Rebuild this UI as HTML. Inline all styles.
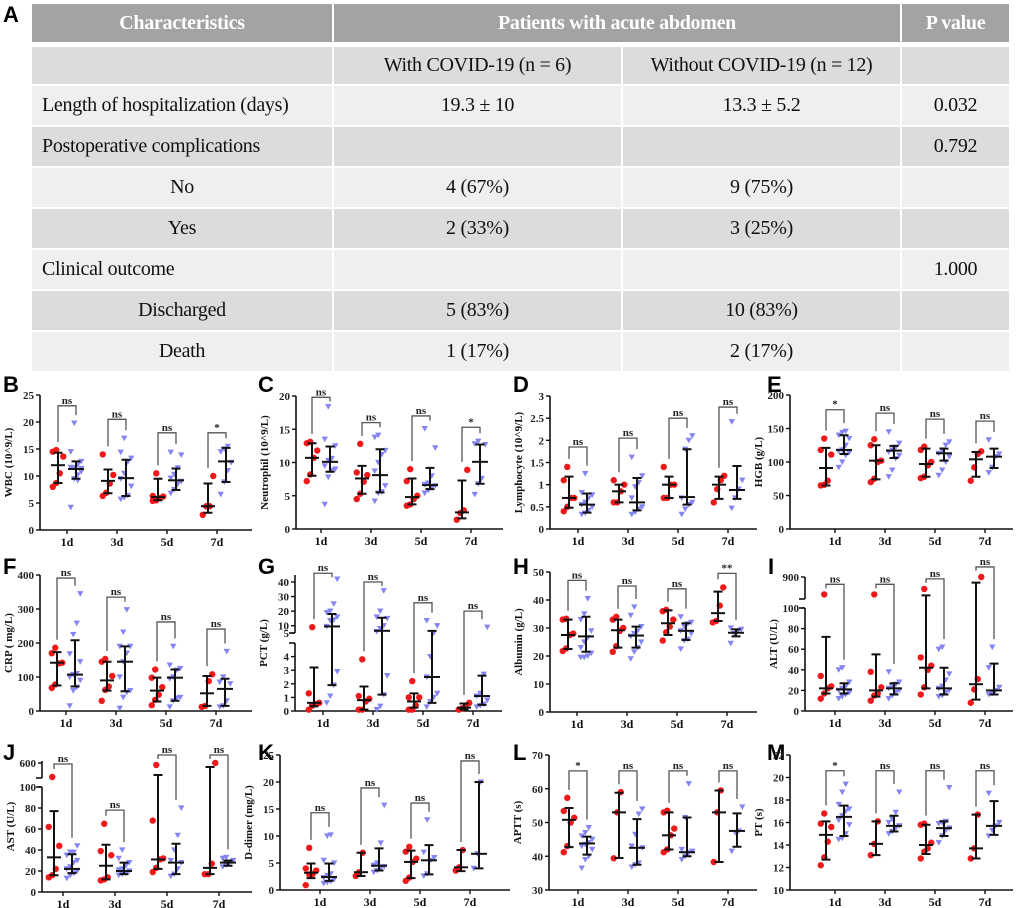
<!DOCTYPE html>
<html><head><meta charset="utf-8">
<style>
html,body{margin:0;padding:0;background:#fff;}
body{width:1020px;height:908px;position:relative;overflow:hidden;font-family:"Liberation Serif",serif;}
.c{position:absolute;box-sizing:border-box;display:flex;align-items:center;font-family:"Liberation Serif",serif;font-size:20px;color:#111;letter-spacing:-0.3px;}
.h{background:#a3a3a3;color:#fff;font-weight:bold;justify-content:center;}
.g{background:#dcdcdc;}
.w{background:#efefef;}
.ctr{justify-content:center;}
.lft{padding-left:10px;}
svg{position:absolute;left:0;top:0;}
</style></head>
<body>
<div style="position:absolute;left:3px;top:2px;font:bold 22px 'Liberation Sans',sans-serif;">A</div>
<div id="tbl"></div>
<svg id="charts" width="1020" height="908"></svg>
<script>
// ---------- table ----------
const colX=[31,333,622,901,1010];
const rowY=[[4,42],[47,84],[86,125],[127,166],[168,207],[209,248],[250,289],[291,330],[332,371]];
const rows=[
 ["","With COVID-19 (n = 6)","Without COVID-19 (n = 12)","",0],
 ["Length of hospitalization (days)","19.3 ± 10","13.3 ± 5.2","0.032",0],
 ["Postoperative complications","","","0.792",0],
 ["No","4 (67%)","9 (75%)","",1],
 ["Yes","2 (33%)","3 (25%)","",1],
 ["Clinical outcome","","","1.000",0],
 ["Discharged","5 (83%)","10 (83%)","",1],
 ["Death","1 (17%)","2 (17%)","",1]];
const tbl=document.getElementById('tbl');
function cell(x1,x2,y1,y2,cls,txt,name){
  const d=document.createElement('div');
  d.className='c '+cls;
  d.style.left=(x1+1)+'px';d.style.width=(x2-x1-2)+'px';d.style.top=y1+'px';d.style.height=(y2-y1)+'px';
  d.textContent=txt;
  
  
  tbl.appendChild(d);
}
cell(colX[0],colX[1],4,42,'h','Characteristics','header-characteristics');
cell(colX[1],colX[3],4,42,'h','Patients with acute abdomen','header-patients');
cell(colX[3],colX[4],4,42,'h','P value','header-p-value');
rows.forEach((r,i)=>{
  const [y1,y2]=rowY[i+1];
  const bg=(i%2===0)?'g':'w';
  cell(colX[0],colX[1],y1,y2,bg+(r[4]?' ctr':' lft'),r[0],'row-label');
  cell(colX[1],colX[2],y1,y2,bg+' ctr',r[1],'with-covid-value');
  cell(colX[2],colX[3],y1,y2,bg+' ctr',r[2],'without-covid-value');
  cell(colX[3],colX[4],y1,y2,bg+' ctr',r[3],'p-value');
});
</script>
<script>
// ---------- chart data ----------
const categories=["1d","3d","5d","7d"];
// B WBC
const B_rM=[12,9.1,6.1,4.4], B_rL=[8.7,6.8,5.5,3.2], B_rH=[14.3,11.2,9.5,8.6];
const B_rP=[[8,8.7,10.5,13.6,14.5,14.8],[6.3,6.9,8.6,10.2,14],[5.4,5.5,5.9,6.2,6.3,10.5],[2.8,4.4,4.4,10]];
const B_bM=[11.3,9.6,9.2,12.7], B_bL=[9.5,6.3,7.4,8.9], B_bH=[12.7,13,11.4,15.2];
const B_bP=[[4.2,9.5,10.2,11.4,11.6,11.5,12.1,12.7,14.5,19.8,9.2,10.8],[5.7,6,6.4,8.1,9.5,10.5,12.6,13.3,14.4,17],[6.8,7.5,8.5,9,9.6,10.3,11.5,13.9,14.4],[6.6,8.9,11,12.5,14.5,15,15.5]];
const B_brk=[23,20.5,18,18], B_sig=["ns","ns","ns","*"], B_ticks=[0,5,10,15,20,25];
// C Neutrophil
const C_rM=[10.7,7.6,4.8,2.5], C_rL=[8,5.3,3.7,1.6], C_rH=[12.9,9.5,7.6,7.3];
const C_rP=[[7.2,8.2,10.7,11.8,12.9,13.1],[4.5,5.3,7.1,8.1,8.5,12.8],[3.5,3.7,4.5,5,7.2,9],[1.4,2.4,2.8,8.9]];
const C_bM=[10.1,8.1,6.6,10.1], C_bL=[8.6,5.5,6,6.8], C_bH=[12.4,12,9.2,12.7];
const C_bP=[[3.7,7.8,8.8,9,9.5,10.3,10.6,12.5,13.5,18.4],[4.2,5.4,5.6,6.5,8.7,10,11.2,11.8,13.8,14.1],[5.4,5.8,6.2,6.5,6.7,6.9,8,12.2,15.1],[5.2,6.8,7.6,12.7,12.8,13.2]];
const C_brk=[19.8,16,17,15.3], C_sig=["ns","ns","ns","*"], C_ticks=[0,5,10,15,20];
// D Lymphocyte
const D_rM=[0.7,0.85,1,1], D_rL=[0.48,0.6,0.7,0.68], D_rH=[1.18,1,1.18,1.18];
const D_rP=[[0.4,0.5,0.7,0.7,1.1,1.4],[0.6,0.6,0.85,1,1.1],[0.7,0.7,1,1,1.4],[0.6,0.9,1.1,1.2]];
const D_bM=[0.55,0.6,0.72,0.88], D_bL=[0.37,0.42,0.55,0.68], D_bH=[0.8,1.15,1.8,1.42];
const D_bP=[[0.33,0.36,0.42,0.5,0.55,0.6,0.7,0.77,0.82,1.25],[0.33,0.38,0.45,0.5,0.7,0.95,1.05,1.2,1.62],[0.33,0.45,0.55,0.6,0.7,1.8,2,2.1],[0.47,0.7,0.9,1.1,2.42]];
const D_brk=[1.85,2.05,2.5,2.75], D_sig=["ns","ns","ns","ns"], D_ticks=[0,0.5,1,1.5,2,2.5,3];
// E HGB
const E_rM=[91,102,97,104], E_rL=[65,74,78,78], E_rH=[121,125,120,115];
const E_rP=[[65,66,72,111,118,135],[70,75,100,102,125,134],[76,78,95,100,118,123],[72,92,112,116]];
const E_bM=[118,117,113,108], E_bL=[112,106,102,91], E_bH=[140,124,120,120];
const E_bP=[[92,100,110,114,116,118,125,135,140,144,146],[78,88,105,110,115,118,122,128,145],[80,88,100,108,113,118,125,130],[84,92,108,112,133]];
const E_brk=[178,173,164,161], E_sig=["*","ns","ns","ns"], E_ticks=[0,50,100,150,200];
// F CRP
const F_rM=[142,90,60,52], F_rL=[75,60,28,15], F_rH=[173,145,98,103];
const F_rP=[[68,78,140,142,170,186],[30,62,72,103,145,153],[17,33,48,70,98,122],[12,15,88,108]];
const F_bM=[107,145,98,65], F_bL=[72,58,30,15], F_bH=[208,190,122,95];
const F_bP=[[15,60,70,90,100,107,110,145,168,225,258,345],[8,40,55,60,100,145,170,190,190,232,298],[12,30,38,40,95,100,120,125,135,190],[12,15,30,80,85,100,175]];
const F_brk=[391,335,262,241], F_sig=["ns","ns","ns","ns"], F_ticks=[0,100,200,300,400];
// G PCT
const G_rM=[0.6,0.8,0.7,0.25], G_rL=[0.35,0.1,0.25,0.1], G_rH=[3.2,1.8,1.3,0.55];
const G_rP=[[0.1,0.4,0.5,0.6,1.3,9],[0.1,0.1,0.7,0.9,1.1,3.8],[0.1,0.1,0.4,1,1,2.2],[0.1,0.2,0.3,0.6]];
const G_bM=[9.5,6.5,2.5,1.1], G_bL=[1.9,1.2,0.6,0.45], G_bH=[18,15.5,6.5,2.6];
const G_bP=[[0.6,1.1,1.9,2.9,9.5,13.5,14,16,19,20,25,42],[0.1,0.35,1.2,2.6,6,8,10,15,16,20,34],[0.3,0.7,1,1.3,2.5,4,5,10,13.5],[0.3,0.4,0.5,0.8,1.1,1.3,2.7,9]];
const G_brk=[46,40,25.7,20], G_sig=["ns","ns","ns","ns"], G_ticks=[0,1,2,3,4,5,10,20,30,40];
// H Albumin
const H_rM=[27.5,29.2,31.7,35.3], H_rL=[22.5,23,27.5,32.5], H_rH=[33,33,36.3,43];
const H_rP=[[21.8,22.7,27.5,28,33,33.3],[21.5,23.5,29,30,33,34],[25.5,28.5,30.5,33,36,36.5],[32,32.5,38,44.5]];
const H_bM=[27,27.3,29,28.3], H_bL=[21.5,23,25.7,27], H_bH=[34,30.5,31.7,29.5];
const H_bP=[[19.5,19.5,20,21,23,25,26.5,29,33,35,40.5],[19,21.5,23,25,27,28,29,30.5,34.5,37.5],[22.5,25.5,26,28,29,30.5,31.5,32,34],[24.5,28,29,29.5,30]];
const H_brk=[47,45,44,49.5], H_sig=["ns","ns","ns","**"], H_ticks=[0,10,20,30,40,50];
// I ALT
const I_rM=[22,20,42,26], I_rL=[17,14,22,11], I_rH=[72,55,240,700];
const I_rP=[[12,17,22,24,34,275],[10,15,17,23,38,275],[16,23,40,44,52,470],[8,21,31,900]];
const I_bM=[21,22,22,20], I_bL=[17,16,16,16], I_bH=[27,27,42,46];
const I_bP=[[12,14,16,18,20,22,24,28,40,42],[12,15,18,20,22,24,26,28,38],[14,15,18,20,22,24,30,36,60,62],[16,17,20,23,42,62]];
const I_brk=[637,637,834,1262], I_sig=["ns","ns","ns","ns"], I_ticks=[0,20,40,60,80,100,900];
// J AST
const J_rM=[33,25,31,23], J_rL=[16,12,22,17], J_rH=[77,45,208,469];
const J_rP=[[14,16,22,44,62,143],[11,12,14,35,39,65],[19,23,31,32,68,535],[17,17,27,600]];
const J_bM=[22,20,28,28], J_bL=[18,17,17,25], J_bH=[36,28,46,30];
const J_bP=[[13,16,18,20,22,24,28,30,35,38,38,44],[16,17,18,20,21,22,25,28,32,40],[15,17,22,28,30,40,54,80],[24,26,28,30,32,33]];
const J_brk=[567,78,861,861], J_sig=["ns","ns","ns","ns"], J_ticks=[0,20,40,60,80,100,600];
// K D-dimer
const K_rM=[3.2,3.3,5.2,4.2], K_rL=[2.2,2.6,2.2,3.5], K_rH=[4.9,6.9,7.3,7.4];
const K_rP=[[0.9,2.9,3,3.6,4,7.8],[2.6,3.3,6.9],[1.7,2.3,5.2,5.8,7.1,8],[3.6,4.2,7.4]];
const K_bM=[2.4,4.5,5.5,6.7], K_bL=[1.7,3.6,2.9,4], K_bH=[4.9,7.7,8.3,20];
const K_bP=[[1.2,1.4,1.6,2,2.3,2.7,3,5,5.5,10,10.2],[3.3,3.6,4,4.3,4.6,5,8.7,15.7],[2.6,3,5.5,6,7,13],[4,6.7,20]];
const K_brk=[14.3,18.9,16.1,23.9], K_sig=["ns","ns","ns","ns"], K_ticks=[0,5,10,15,20,25];
// L APTT
const L_rM=[50.8,53,46.2,53], L_rL=[42.7,39.5,42,38.3], L_rH=[54.3,58.8,53,59.5];
const L_rP=[[41.2,43,50,51.4,53.4,57.3],[39.4,53,59],[41.2,42,46.2,48.2,53,53.5],[38.3,53,59.5]];
const L_bM=[43.8,42.5,41.2,47.5], L_bL=[40.5,37.5,40,42.8], L_bH=[45.8,51,51.5,52.7];
const L_bP=[[36.5,39,40,42,43,43.5,44,45,46,47,48.5],[36.8,37.5,38,42.5,43,46.5,52.5,54],[39,40,41,41.5,42,51.5,61.5],[41.5,47,47.5,54.6]];
const L_brk=[65.3,65.3,65.3,65.3], L_sig=["*","ns","ns","ns"], L_ticks=[30,40,50,60,70];
// M PT
const M_rM=[14.9,14.1,14,13.7], M_rL=[12.7,13.1,13.2,12.8], M_rH=[16.1,16.1,15.8,16.7];
const M_rP=[[12.2,12.9,14.3,15.6,15.9,16.8],[13.1,14.1,16.1],[12.8,13.4,13.7,14.2,15.8,15.9],[12.8,13.7,16.7]];
const M_bM=[16.5,15.7,15.5,15.7], M_bL=[14.8,15.2,14.8,14.9], M_bH=[17.5,16.6,16.1,17.9];
const M_bP=[[14.5,14.6,15,15.8,16.2,16.6,17,17.2,17.6,18.7,19.4],[15,15.2,15.5,15.7,16,16.3,16.9,18.7],[14.2,14.8,15.3,15.5,15.9,16,16.1,19.1],[14.8,15.3,15.7,16,18.6]];
const M_brk=[20.6,20.6,20.6,20.6], M_sig=["*","ns","ns","ns"], M_ticks=[10,12,14,16,18,20,22];

// ---------- layout ----------
const S=document.getElementById('charts');
const NS='http://www.w3.org/2000/svg';
function mk(tag,attrs,parent){const e=document.createElementNS(NS,tag);for(const k in attrs)e.setAttribute(k,attrs[k]);(parent||S).appendChild(e);return e;}
const panels=[
 {id:'B',t:'WBC (10^9/L)',ax:40,c0:67,st:50,xe:252,lx:3,ly:392,segs:[[0,25,530,395]],rM:B_rM,rL:B_rL,rH:B_rH,rP:B_rP,bM:B_bM,bL:B_bL,bH:B_bH,bP:B_bP,brk:B_brk,sig:B_sig,ticks:B_ticks},
 {id:'C',t:'Neutrophil (10^9/L)',ax:296,c0:321,st:50,xe:503,lx:258,ly:392,segs:[[0,20,529,396]],rM:C_rM,rL:C_rL,rH:C_rH,rP:C_rP,bM:C_bM,bL:C_bL,bH:C_bH,bP:C_bP,brk:C_brk,sig:C_sig,ticks:C_ticks},
 {id:'D',t:'Lymphocyte (10^9/L)',ax:550,c0:578,st:50,xe:757,lx:513,ly:392,segs:[[0,3,529,396]],rM:D_rM,rL:D_rL,rH:D_rH,rP:D_rP,bM:D_bM,bL:D_bL,bH:D_bH,bP:D_bP,brk:D_brk,sig:D_sig,ticks:D_ticks},
 {id:'E',t:'HGB (g/L)',ax:790,c0:835,st:50,xe:1013,lx:767,ly:392,segs:[[0,200,529,395]],rM:E_rM,rL:E_rL,rH:E_rH,rP:E_rP,bM:E_bM,bL:E_bL,bH:E_bH,bP:E_bP,brk:E_brk,sig:E_sig,ticks:E_ticks},
 {id:'F',t:'CRP ( mg/L)',ax:40,c0:66,st:50,xe:252,lx:3,ly:574,segs:[[0,400,711,575]],rM:F_rM,rL:F_rL,rH:F_rH,rP:F_rP,bM:F_bM,bL:F_bL,bH:F_bH,bP:F_bP,brk:F_brk,sig:F_sig,ticks:F_ticks},
 {id:'G',t:'PCT (g/L)',ax:295,c0:323,st:50,xe:502,lx:258,ly:574,segs:[[0,5,711,643],[5,45,633,574.7]],rM:G_rM,rL:G_rL,rH:G_rH,rP:G_rP,bM:G_bM,bL:G_bL,bH:G_bH,bP:G_bP,brk:G_brk,sig:G_sig,ticks:G_ticks,axTop:575},
 {id:'H',t:'Albumin (g/L)',ax:550,c0:577,st:50,xe:757,lx:513,ly:574,segs:[[0,50,712,572]],rM:H_rM,rL:H_rL,rH:H_rH,rP:H_rP,bM:H_bM,bL:H_bL,bH:H_bH,bP:H_bP,brk:H_brk,sig:H_sig,ticks:H_ticks},
 {id:'I',t:'ALT (U/L)',ax:805,c0:835,st:50,xe:1013,lx:768,ly:574,segs:[[0,100,711,608],[110,900,599,577]],rM:I_rM,rL:I_rL,rH:I_rH,rP:I_rP,bM:I_bM,bL:I_bL,bH:I_bH,bP:I_bP,brk:I_brk,sig:I_sig,ticks:I_ticks,axTop:577},
 {id:'J',t:'AST (U/L)',ax:42,c0:63,st:52,xe:252,lx:3,ly:760,segs:[[0,100,892,787],[110,600,778,763]],rM:J_rM,rL:J_rL,rH:J_rH,rP:J_rP,bM:J_bM,bL:J_bL,bH:J_bH,bP:J_bP,brk:J_brk,sig:J_sig,ticks:J_ticks,axTop:761},
 {id:'K',t:'D-dimer (mg/L)',ax:280,c0:320,st:50,xe:510,lx:258,ly:760,segs:[[0,25,890,755]],rM:K_rM,rL:K_rL,rH:K_rH,rP:K_rP,bM:K_bM,bL:K_bL,bH:K_bH,bP:K_bP,brk:K_brk,sig:K_sig,ticks:K_ticks},
 {id:'L',t:'APTT (s)',ax:549,c0:578,st:50,xe:757,lx:513,ly:760,segs:[[30,70,890,755]],rM:L_rM,rL:L_rL,rH:L_rH,rP:L_rP,bM:L_bM,bL:L_bL,bH:L_bH,bP:L_bP,brk:L_brk,sig:L_sig,ticks:L_ticks},
 {id:'M',t:'PT (s)',ax:790,c0:835,st:50,xe:1013,lx:767,ly:760,segs:[[10,22,890,755]],rM:M_rM,rL:M_rL,rH:M_rH,rP:M_rP,bM:M_bM,bL:M_bL,bH:M_bH,bP:M_bP,brk:M_brk,sig:M_sig,ticks:M_ticks}
];
function yScale(p,v){
  let s=p.segs[0];
  for(const sg of p.segs){ if(v>=sg[0]) s=sg; }
  return s[2]+(v-s[0])/(s[1]-s[0])*(s[3]-s[2]);
}
const FT='"Liberation Serif",serif';
panels.forEach(p=>{
  const g=mk('g',{});
  
  
  const letter=mk('text',{x:p.lx,y:p.ly,'font-family':'"Liberation Sans",sans-serif','font-weight':'bold','font-size':22},g);
  letter.textContent=p.id;
  
  
  const yb=p.segs[0][2];
  p.segs.forEach((sg,i)=>{
    const top=(i===p.segs.length-1&&p.axTop)?p.axTop:sg[3];
    const ax=mk('line',{x1:p.ax,x2:p.ax,y1:sg[2]+(i===0?0.5:0),y2:top,stroke:'#111','stroke-width':1.6},g);
    
    
    if(p.segs.length>1){
      mk('line',{x1:p.ax-6,x2:p.ax,y1:(i===0?sg[3]:sg[2]),y2:(i===0?sg[3]:sg[2]),stroke:'#111','stroke-width':1.6},g);
    }
  });
  const xa=mk('line',{x1:p.ax,x2:p.xe,y1:yb,y2:yb,stroke:'#111','stroke-width':1.6},g);
  
  
  p.ticks.forEach(t=>{
    const y=yScale(p,t);
    mk('line',{x1:p.ax-4,x2:p.ax,y1:y,y2:y,stroke:'#111','stroke-width':1.4},g);
    const tl=mk('text',{x:p.ax-6,y:y+4,'text-anchor':'end','font-family':FT,'font-weight':'bold','font-size':11,fill:'#222'},g);
    tl.textContent=String(t);
    
    
  });
  const ty=(yb+(p.axTop||p.segs[p.segs.length-1][3]))/2;
  const yt=mk('text',{x:p.ax-28,y:ty,transform:`rotate(-90 ${p.ax-28} ${ty})`,'text-anchor':'middle','font-family':FT,'font-weight':'bold','font-size':11,fill:'#111'},g);
  yt.textContent=p.t;
  
  
  categories.forEach((c,i)=>{
    const cx=p.c0+i*p.st;
    mk('line',{x1:cx,x2:cx,y1:yb,y2:yb+4,stroke:'#111','stroke-width':1.4},g);
    const xl=mk('text',{x:cx,y:yb+16,'text-anchor':'middle','font-family':FT,'font-weight':'bold','font-size':12,fill:'#111'},g);
    xl.textContent=c;
    
    
    const rx=cx-9, bx=cx+9;
    const by=yScale(p,p.brk[i]);
    const rTop=yScale(p,Math.max(p.rH[i],...p.rP[i]))-8;
    const bTop=yScale(p,Math.max(p.bH[i],...p.bP[i]))-8;
    const br=mk('path',{d:`M${rx} ${Math.max(rTop,by+4)} V${by} H${bx} V${Math.max(bTop,by+4)}`,fill:'none',stroke:'#555','stroke-width':1.3},g);
    
    
    const sl=mk('text',{x:(rx+bx)/2,y:by-2,'text-anchor':'middle','font-family':FT,'font-weight':'bold','font-size':11,fill:'#222'},g);
    sl.textContent=p.sig[i];
    
    
    p.rP[i].forEach((v,k)=>{
      const ox=((k%4)-1.5)*3.5;
      const pt=mk('circle',{cx:rx+ox,cy:yScale(p,v),r:3.2,fill:'#f01818'},g);
      
      
    });
    p.bP[i].forEach((v,k)=>{
      const ox=((k%4)-1.5)*3.5, y=yScale(p,v), x=bx+ox;
      const pt=mk('path',{d:`M${x-3.2} ${y-2.6} L${x+3.2} ${y-2.6} L${x} ${y+3} Z`,fill:'#8484f4'},g);
      
      
    });
    [[rx,p.rM[i],p.rL[i],p.rH[i],7,'with-covid'],[bx,p.bM[i],p.bL[i],p.bH[i],8,'without-covid']].forEach(e=>{
      const [x,m,lo,hi,hw,nm]=e;
      const yl=yScale(p,lo), yh=yScale(p,hi), ym=yScale(p,m);
      const eb=mk('path',{d:`M${x} ${yl} V${yh} M${x-4.5} ${yl} H${x+4.5} M${x-4.5} ${yh} H${x+4.5}`,stroke:'#111','stroke-width':2,fill:'none'},g);
      
      
      const md=mk('line',{x1:x-hw,x2:x+hw,y1:ym,y2:ym,stroke:'#111','stroke-width':2},g);
      
      
    });
  });
});
</script>
</body></html>
